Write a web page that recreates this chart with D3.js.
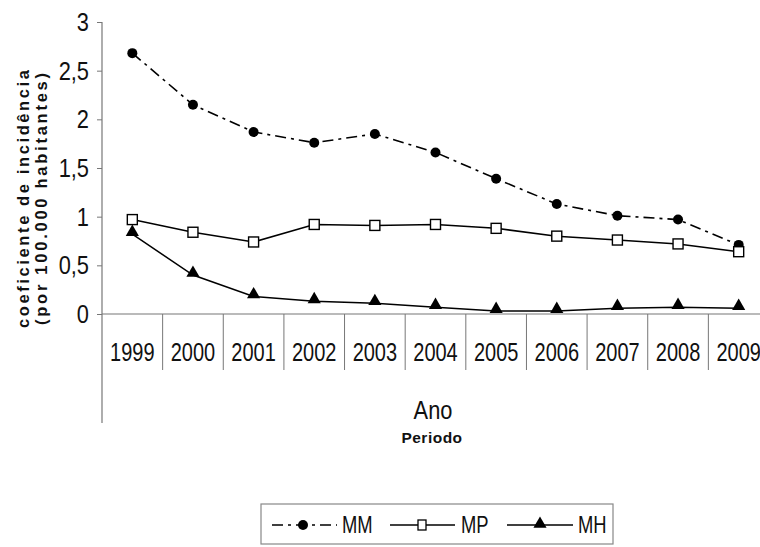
<!DOCTYPE html>
<html lang="pt">
<head>
<meta charset="UTF-8">
<title>Coeficiente de incidência</title>
<script src="https://d3js.org/d3.v7.min.js"></script>
<style>
  body { margin: 0; background: #fff; }
  svg { display: block; }
</style>
</head>
<body>
<script>

// data
const years = ["1999","2000","2001","2002","2003","2004","2005","2006","2007","2008","2009"];
const mm = [2.68, 2.15, 1.87, 1.76, 1.85, 1.66, 1.39, 1.13, 1.01, 0.97, 0.71];
const mp = [0.97, 0.84, 0.74, 0.92, 0.91, 0.92, 0.88, 0.80, 0.76, 0.72, 0.64];
const mh = [0.82, 0.40, 0.18, 0.13, 0.11, 0.07, 0.03, 0.03, 0.06, 0.07, 0.06];
const yTicks = [0, 0.5, 1, 1.5, 2, 2.5, 3];
const seriesNames = ["MM", "MP", "MH"];

const W = 760, H = 547;
const FONT = "Liberation Sans, Arial, sans-serif";
const svg = d3.select("body").append("svg").attr("width", W).attr("height", H);

const x = d3.scaleBand().domain(years).range([102, 769]);
const y = d3.scaleLinear().domain([0, 3]).range([314, 22]);

// narrow-looking text: squeeze a normal sans horizontally
function narrowText(parent, tx, ty, str, size, sx, anchor) {
  const g = parent.append("g").attr("transform", `translate(${tx},${ty}) scale(${sx},1)`);
  return g.append("text").attr("x", 0).attr("y", 0)
    .attr("font-family", FONT).attr("font-size", size).attr("fill", "#111")
    .attr("text-anchor", anchor || "middle").text(str);
}

// y axis
const yAxis = svg.append("g").attr("transform", "translate(102,0)")
  .call(d3.axisLeft(y).tickValues(yTicks).tickSize(5).tickFormat(""));
yAxis.select(".domain").remove();
yAxis.selectAll(".tick line").attr("stroke", "#777");
yTicks.forEach(v => {
  narrowText(svg, 89, y(v) + 9, String(v).replace(".", ","), 26, 0.84, "end");
});

// vertical axis line continues below the category labels
svg.append("line").attr("x1", 102).attr("x2", 102).attr("y1", y(3)).attr("y2", 423)
  .attr("stroke", "#777").attr("stroke-width", 1.2);

// x axis line + category separators
svg.append("line").attr("x1", 102).attr("x2", W).attr("y1", y(0)).attr("y2", y(0))
  .attr("stroke", "#777").attr("stroke-width", 1.2);
svg.append("g").selectAll("line").data(years.slice(1))
  .enter().append("line")
  .attr("x1", d => x(d)).attr("x2", d => x(d))
  .attr("y1", y(0)).attr("y2", 370)
  .attr("stroke", "#777");

years.forEach(d => {
  narrowText(svg, x(d) + x.bandwidth() / 2, 361, d, 25, 0.8, "middle");
});

// axis titles
narrowText(svg, 433, 419, "Ano", 26, 0.84, "middle");
svg.append("text")
  .attr("x", 432).attr("y", 443).attr("text-anchor", "middle")
  .attr("font-family", FONT).attr("font-weight", "bold")
  .attr("font-size", 15.5).attr("letter-spacing", 0.5).attr("fill", "#111").text("Periodo");

const yTitle = svg.append("g").attr("transform", "translate(0,199) rotate(-90)")
  .attr("font-family", FONT).attr("font-weight", "bold")
  .attr("font-size", 16.5).attr("fill", "#111").attr("text-anchor", "middle");
yTitle.append("text").attr("x", 0).attr("y", 29)
  .attr("textLength", 258).attr("lengthAdjust", "spacing")
  .text("coeficiente de incidência");
yTitle.append("text").attr("x", 0).attr("y", 47)
  .attr("textLength", 252).attr("lengthAdjust", "spacing")
  .text("(por 100.000 habitantes)");

// lines
const cx = (d, i) => x(years[i]) + x.bandwidth() / 2;
const line = d3.line().x(cx).y(d => y(d));
const dashMM = "11,5,3,5";

svg.append("path").datum(mm).attr("d", line).attr("fill", "none")
  .attr("stroke", "#000").attr("stroke-width", 1.6).attr("stroke-dasharray", dashMM);
svg.append("path").datum(mp).attr("d", line).attr("fill", "none")
  .attr("stroke", "#000").attr("stroke-width", 1.5);
svg.append("path").datum(mh).attr("d", line).attr("fill", "none")
  .attr("stroke", "#000").attr("stroke-width", 1.5);

const tri = d3.symbol().type(d3.symbolTriangle).size(75);

svg.append("g").selectAll("circle").data(mm).enter().append("circle")
  .attr("cx", cx).attr("cy", d => y(d)).attr("r", 5).attr("fill", "#000");
svg.append("g").selectAll("path").data(mh).enter().append("path")
  .attr("d", tri).attr("transform", (d, i) => `translate(${cx(d, i)},${y(d) - 2})`)
  .attr("fill", "#000");
svg.append("g").selectAll("rect").data(mp).enter().append("rect")
  .attr("x", (d, i) => cx(d, i) - 5).attr("y", d => y(d) - 5)
  .attr("width", 10).attr("height", 10)
  .attr("fill", "#fff").attr("stroke", "#000").attr("stroke-width", 1.4);

// legend
const legend = svg.append("g");
legend.append("rect").attr("x", 261).attr("y", 504).attr("width", 352).attr("height", 40)
  .attr("fill", "#fff").attr("stroke", "#888").attr("stroke-width", 1.2);

const ly = 525;
const legItems = [
  { name: seriesNames[0], x0: 272, x1: 337, mid: 303, dash: dashMM, mark: "circle", tx: 342 },
  { name: seriesNames[1], x0: 390, x1: 455, mid: 422, dash: null, mark: "rect", tx: 461 },
  { name: seriesNames[2], x0: 507, x1: 573, mid: 540, dash: null, mark: "tri", tx: 578 }
];
legItems.forEach(it => {
  legend.append("line").attr("x1", it.x0).attr("x2", it.x1).attr("y1", ly).attr("y2", ly)
    .attr("stroke", "#000").attr("stroke-width", 1.5)
    .attr("stroke-dasharray", it.dash);
  if (it.mark === "circle") {
    legend.append("circle").attr("cx", it.mid).attr("cy", ly).attr("r", 5).attr("fill", "#000");
  } else if (it.mark === "rect") {
    legend.append("rect").attr("x", it.mid - 4).attr("y", ly - 5).attr("width", 8).attr("height", 10)
      .attr("fill", "#fff").attr("stroke", "#000").attr("stroke-width", 1.3);
  } else {
    legend.append("path").attr("d", tri).attr("transform", `translate(${it.mid},${ly - 1})`).attr("fill", "#000");
  }
  narrowText(legend, it.tx, ly + 8, it.name, 23, 0.8, "start");
});

</script>
</body>
</html>
